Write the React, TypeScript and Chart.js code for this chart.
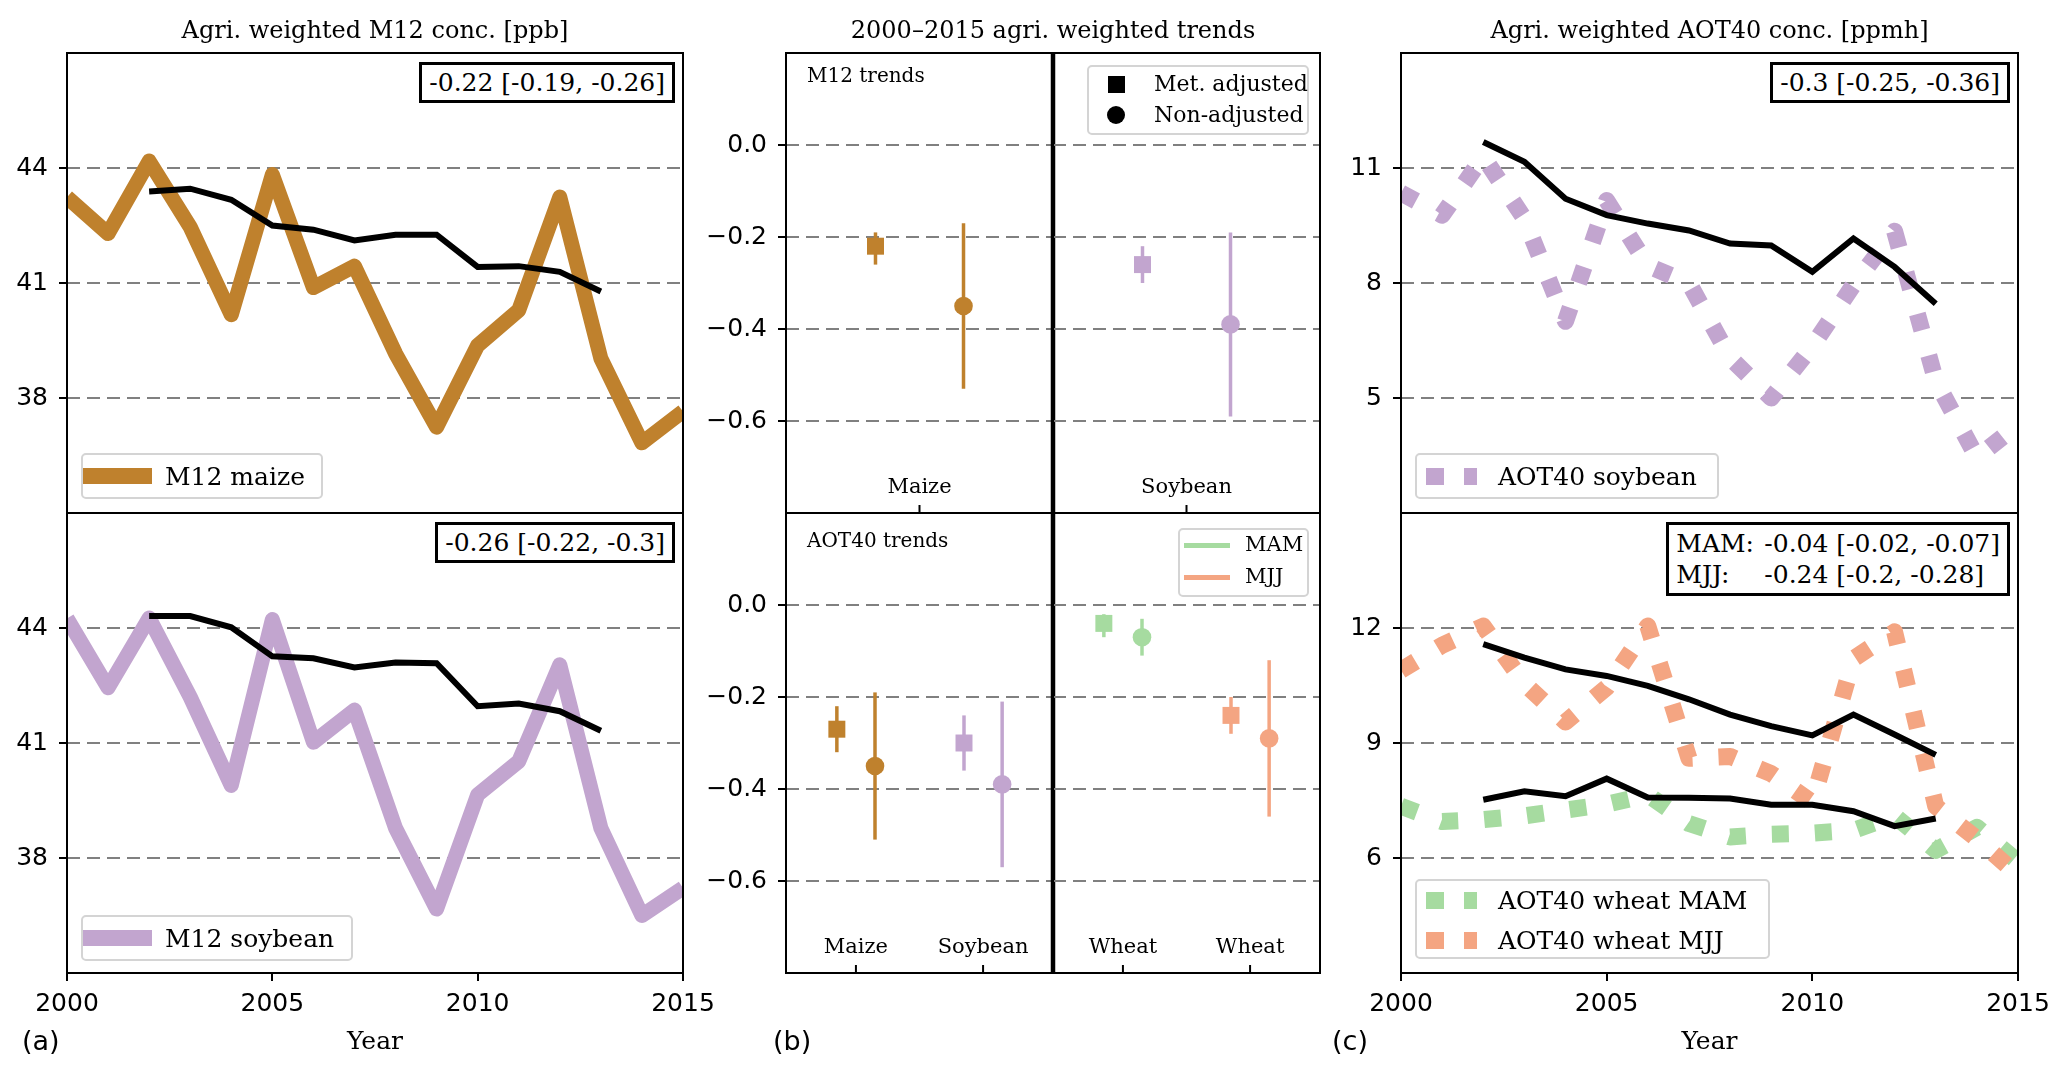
import React, { useEffect, useRef } from "react";
import { Chart, registerables } from "chart.js";

Chart.register(...registerables);

// ---------------- data ----------------
const years = [2000, 2001, 2002, 2003, 2004, 2005, 2006, 2007, 2008, 2009, 2010, 2011, 2012, 2013, 2014, 2015];

const maizeM12 = [43.24, 42.29, 44.18, 42.46, 40.17, 43.83, 40.88, 41.44, 39.16, 37.24, 39.37, 40.29, 43.24, 39.03, 36.83, 37.65];
const maizeM12Adj = [null, null, 43.39, 43.46, 43.17, 42.5, 42.39, 42.11, 42.26, 42.26, 41.42, 41.44, 41.29, 40.78, null, null];
const soyM12 = [44.25, 42.44, 44.26, 42.2, 39.89, 44.22, 41.02, 41.86, 38.78, 36.67, 39.65, 40.52, 43.04, 38.78, 36.5, 37.22];
const soyM12Adj = [null, null, 44.31, 44.31, 44.02, 43.26, 43.21, 42.97, 43.1, 43.08, 41.96, 42.03, 41.83, 41.32, null, null];

const soyAOT40 = [10.35, 9.77, 11.3, 9.68, 7.0, 10.15, 8.45, 8.0, 6.05, 5.0, 6.35, 7.95, 9.35, 5.45, 3.45, 4.3];
const soyAOT40Adj = [null, null, 11.68, 11.16, 10.2, 9.77, 9.55, 9.37, 9.03, 8.98, 8.29, 9.16, 8.42, 7.46, null, null];
const wheatMAM = [7.35, 6.95, 7.0, 7.1, 7.25, 7.4, 7.65, 6.9, 6.55, 6.62, 6.65, 6.72, 7.1, 6.2, 6.8, 5.9];
const wheatMAMAdj = [null, null, 7.52, 7.74, 7.61, 8.07, 7.58, 7.57, 7.55, 7.39, 7.39, 7.22, 6.83, 7.03, null, null];
const wheatMJJ = [10.9, 11.55, 12.05, 10.55, 9.55, 10.45, 12.05, 8.6, 8.65, 8.2, 7.45, 11.2, 11.9, 7.35, 6.5, 5.55];
const wheatMJJAdj = [null, null, 11.58, 11.23, 10.92, 10.75, 10.49, 10.14, 9.74, 9.44, 9.2, 9.74, 9.22, 8.69, null, null];

const m12Crops = ["Maize", "Soybean"];
const m12AdjMid = [-0.22, -0.26];
const m12AdjLo = [-0.26, -0.3];
const m12AdjHi = [-0.19, -0.22];
const m12RawMid = [-0.35, -0.39];
const m12RawLo = [-0.53, -0.59];
const m12RawHi = [-0.17, -0.19];

const aotCrops = ["Maize", "Soybean", "Wheat", "Wheat"];
const aotAdjMid = [-0.27, -0.3, -0.04, -0.24];
const aotAdjLo = [-0.32, -0.36, -0.07, -0.28];
const aotAdjHi = [-0.22, -0.24, -0.02, -0.2];
const aotRawMid = [-0.35, -0.39, -0.07, -0.29];
const aotRawLo = [-0.51, -0.57, -0.11, -0.46];
const aotRawHi = [-0.19, -0.21, -0.03, -0.12];

const yearTicks = [2000, 2005, 2010, 2015];
const m12Ticks = [38, 41, 44];
const aotSoyTicks = [5, 8, 11];
const aotWheatTicks = [6, 9, 12];
const trendTicks = [-0.6, -0.4, -0.2, 0.0];

// ---------------- style ----------------
const C_MAIZE = "#bf812d";
const C_SOY = "#c2a5cf";
const C_MAM = "#a6dba0";
const C_MJJ = "#f4a582";
const m12Colors = [C_MAIZE, C_SOY];
const aotColors = [C_MAIZE, C_SOY, C_MAM, C_MJJ];

const SERIF = "'DejaVu Serif', serif";
const SANS = "'DejaVu Sans', sans-serif";

const W = 2067;
const H = 1070;
const ML = 100, MR = 50, MT = 12, MB = 80;
const OFF = 0.15;

type Box = { l: number; t: number; r: number; b: number };

const B = {
  a1: { l: 67, t: 53, r: 683, b: 513 },
  a2: { l: 67, t: 513, r: 683, b: 973 },
  b1: { l: 786, t: 53, r: 1053, b: 513 },
  b2: { l: 1053, t: 53, r: 1320, b: 513 },
  b3: { l: 786, t: 513, r: 1053, b: 973 },
  b4: { l: 1053, t: 513, r: 1320, b: 973 },
  c1: { l: 1401, t: 53, r: 2018, b: 513 },
  c2: { l: 1401, t: 513, r: 2018, b: 973 },
};

const pts = (arr: (number | null)[]) =>
  years.map((x, i) => ({ x, y: arr[i] })).filter((p) => p.y !== null);

const thickLine = (arr: (number | null)[], color: string) => ({
  data: pts(arr), borderColor: color, backgroundColor: color, borderWidth: 15,
  pointRadius: 0, borderJoinStyle: "round", borderCapStyle: "butt", tension: 0, clip: 0, fill: false,
});
const dottedLine = (arr: (number | null)[], color: string) => ({
  data: pts(arr), borderColor: color, backgroundColor: color, borderWidth: 17, borderDash: [17, 26],
  pointRadius: 0, borderJoinStyle: "round", borderCapStyle: "butt", tension: 0, clip: 0, fill: false,
});
const blackLine = (arr: (number | null)[]) => ({
  data: pts(arr), borderColor: "#000", backgroundColor: "#000", borderWidth: 6,
  pointRadius: 0, borderJoinStyle: "miter", borderCapStyle: "butt", tension: 0, clip: 0, fill: false,
});
const marker = (x: number, y: number, color: string, style: string) => ({
  data: [{ x, y }], showLine: false, pointStyle: style, pointRadius: style === "rect" ? 12 : 9.3,
  pointBackgroundColor: color, pointBorderColor: color, pointBorderWidth: 0, borderColor: color, backgroundColor: color, clip: false,
});
const errBar = (x: number, lo: number, hi: number, color: string) => ({
  data: [{ x, y: lo }, { x, y: hi }], borderColor: color, backgroundColor: color, borderWidth: 3.5,
  pointRadius: 0, borderCapStyle: "butt", clip: false, fill: false,
});

// idx: which entries of the arrays go in this subplot; they sit at categories 0, 1, ...
const trendSets = (idx: number[], mid: number[], lo: number[], hi: number[], rmid: number[], rlo: number[], rhi: number[], colors: string[]) => {
  const mk: any[] = [];
  const eb: any[] = [];
  idx.forEach((k, c) => {
    mk.push(marker(c - OFF, mid[k], colors[k], "rect"));
    mk.push(marker(c + OFF, rmid[k], colors[k], "circle"));
    eb.push(errBar(c - OFF, lo[k], hi[k], colors[k]));
    eb.push(errBar(c + OFF, rlo[k], rhi[k], colors[k]));
  });
  return [...mk, ...eb];
};

type Spec = {
  id: string; box: Box;
  xMin: number; xMax: number; xTicks: number[]; xLabels: boolean; xTickMarks: boolean; xInside: boolean;
  xFmt: (v: number) => string;
  yMin: number; yMax: number; yTicks: number[]; yLabels: boolean; yFmt: (v: number) => string;
  datasets: any[]; thickRight?: boolean; innerTicks?: number[];
};

const yearFmt = (v: number) => String(v);
const intFmt = (v: number) => String(v);
const trendFmt = (v: number) => (Math.abs(v) < 1e-9 ? "0.0" : v.toFixed(1).replace("-", "\u2212"));

const specs: Spec[] = [
  {
    id: "a1", box: B.a1, xMin: 2000, xMax: 2015, xTicks: yearTicks, xLabels: false, xTickMarks: false, xInside: false, xFmt: yearFmt,
    yMin: 35, yMax: 47, yTicks: m12Ticks, yLabels: true, yFmt: intFmt,
    datasets: [blackLine(maizeM12Adj), thickLine(maizeM12, C_MAIZE)],
  },
  {
    id: "a2", box: B.a2, xMin: 2000, xMax: 2015, xTicks: yearTicks, xLabels: true, xTickMarks: true, xInside: false, xFmt: yearFmt,
    yMin: 35, yMax: 47, yTicks: m12Ticks, yLabels: true, yFmt: intFmt,
    datasets: [blackLine(soyM12Adj), thickLine(soyM12, C_SOY)],
  },
  {
    id: "b1", box: B.b1, xMin: -0.455, xMax: 0.455, xTicks: [0], xLabels: true, xTickMarks: false, xInside: true,
    xFmt: () => m12Crops[0],
    yMin: -0.8, yMax: 0.2, yTicks: trendTicks, yLabels: true, yFmt: trendFmt,
    datasets: trendSets([0], m12AdjMid, m12AdjLo, m12AdjHi, m12RawMid, m12RawLo, m12RawHi, m12Colors),
    thickRight: true, innerTicks: [0],
  },
  {
    id: "b2", box: B.b2, xMin: -0.455, xMax: 0.455, xTicks: [0], xLabels: true, xTickMarks: false, xInside: true,
    xFmt: () => m12Crops[1],
    yMin: -0.8, yMax: 0.2, yTicks: trendTicks, yLabels: false, yFmt: trendFmt,
    datasets: trendSets([1], m12AdjMid, m12AdjLo, m12AdjHi, m12RawMid, m12RawLo, m12RawHi, m12Colors),
    innerTicks: [0],
  },
  {
    id: "b3", box: B.b3, xMin: -0.55, xMax: 1.55, xTicks: [0, 1], xLabels: true, xTickMarks: false, xInside: true,
    xFmt: (v) => aotCrops[Math.round(v)],
    yMin: -0.8, yMax: 0.2, yTicks: trendTicks, yLabels: true, yFmt: trendFmt,
    datasets: trendSets([0, 1], aotAdjMid, aotAdjLo, aotAdjHi, aotRawMid, aotRawLo, aotRawHi, aotColors),
    thickRight: true, innerTicks: [0, 1],
  },
  {
    id: "b4", box: B.b4, xMin: -0.55, xMax: 1.55, xTicks: [0, 1], xLabels: true, xTickMarks: false, xInside: true,
    xFmt: (v) => aotCrops[2 + Math.round(v)],
    yMin: -0.8, yMax: 0.2, yTicks: trendTicks, yLabels: false, yFmt: trendFmt,
    datasets: trendSets([2, 3], aotAdjMid, aotAdjLo, aotAdjHi, aotRawMid, aotRawLo, aotRawHi, aotColors),
    innerTicks: [0, 1],
  },
  {
    id: "c1", box: B.c1, xMin: 2000, xMax: 2015, xTicks: yearTicks, xLabels: false, xTickMarks: false, xInside: false, xFmt: yearFmt,
    yMin: 2, yMax: 14, yTicks: aotSoyTicks, yLabels: true, yFmt: intFmt,
    datasets: [blackLine(soyAOT40Adj), dottedLine(soyAOT40, C_SOY)],
  },
  {
    id: "c2", box: B.c2, xMin: 2000, xMax: 2015, xTicks: yearTicks, xLabels: true, xTickMarks: true, xInside: false, xFmt: yearFmt,
    yMin: 3, yMax: 15, yTicks: aotWheatTicks, yLabels: true, yFmt: intFmt,
    datasets: [blackLine(wheatMAMAdj), blackLine(wheatMJJAdj), dottedLine(wheatMJJ, C_MJJ), dottedLine(wheatMAM, C_MAM)],
  },
];

const framePlugin = {
  id: "frame",
  afterDraw(chart: any, _args: any, opts: any) {
    const { ctx, chartArea } = chart;
    const { left, top, right, bottom } = chartArea;
    ctx.save();
    ctx.strokeStyle = "#000";
    ctx.lineWidth = 2;
    ctx.setLineDash([]);
    ctx.strokeRect(left, top, right - left, bottom - top);
    if (opts && opts.thickRight) {
      ctx.lineWidth = 4.5;
      ctx.beginPath();
      ctx.moveTo(right, top);
      ctx.lineTo(right, bottom);
      ctx.stroke();
    }
    if (opts && opts.innerTicks) {
      ctx.lineWidth = 2;
      opts.innerTicks.forEach((v: number) => {
        const px = chart.scales.x.getPixelForValue(v);
        ctx.beginPath();
        ctx.moveTo(px, bottom);
        ctx.lineTo(px, bottom - 8);
        ctx.stroke();
      });
    }
    ctx.restore();
  },
};

function Panel({ spec }: { spec: Spec }) {
  const ref = useRef<HTMLCanvasElement>(null);
  const { box } = spec;
  const cw = box.r - box.l + ML + MR;
  const ch = box.b - box.t + MT + MB;
  useEffect(() => {
    const chart = new Chart(ref.current as HTMLCanvasElement, {
      type: "line",
      data: { datasets: spec.datasets },
      options: {
        animation: false,
        responsive: false,
        maintainAspectRatio: false,
        events: [],
        layout: { padding: { left: 0, right: MR, top: MT, bottom: 0 } },
        plugins: {
          legend: { display: false },
          tooltip: { enabled: false },
          title: { display: false },
          frame: { thickRight: !!spec.thickRight, innerTicks: spec.innerTicks || null },
        } as any,
        scales: {
          x: {
            type: "linear",
            position: "bottom",
            min: spec.xMin,
            max: spec.xMax,
            afterBuildTicks: (s: any) => {
              s.ticks = spec.xTicks.map((v) => ({ value: v }));
            },
            afterFit: (s: any) => {
              s.height = MB;
              s.paddingLeft = 0; s.paddingRight = 0; s.paddingTop = 0; s.paddingBottom = 0;
            },
            grid: {
              display: spec.xTickMarks,
              drawOnChartArea: false,
              drawTicks: spec.xTickMarks,
              tickLength: 8,
              tickWidth: 2,
              tickColor: "#000",
              color: "#000",
              lineWidth: 2,
            },
            border: { display: false },
            ticks: {
              display: spec.xLabels,
              autoSkip: false,
              maxRotation: 0,
              minRotation: 0,
              mirror: spec.xInside,
              padding: spec.xInside ? 13 : 8,
              color: "#000",
              font: spec.xInside ? { family: SERIF, size: 21 } : { family: SANS, size: 25 },
              callback: (v: any) => spec.xFmt(Number(v)),
            },
          },
          y: {
            type: "linear",
            position: "left",
            min: spec.yMin,
            max: spec.yMax,
            afterBuildTicks: (s: any) => {
              s.ticks = spec.yTicks.map((v) => ({ value: v }));
            },
            afterFit: (s: any) => {
              s.width = ML;
              s.paddingLeft = 0; s.paddingRight = 0; s.paddingTop = 0; s.paddingBottom = 0;
            },
            grid: {
              display: true,
              drawOnChartArea: true,
              drawTicks: spec.yLabels,
              tickLength: 8,
              tickWidth: 2,
              tickColor: "#000",
              color: "#808080",
              lineWidth: 2,
            },
            border: { display: false, dash: [13, 7] },
            ticks: {
              display: spec.yLabels,
              autoSkip: false,
              padding: 11,
              color: "#000",
              font: { family: SANS, size: 25 },
              callback: (v: any) => spec.yFmt(Number(v)),
            },
          },
        },
      } as any,
      plugins: [framePlugin as any],
    });
    return () => chart.destroy();
  }, []);
  return (
    <canvas
      ref={ref}
      width={cw}
      height={ch}
      style={{ position: "absolute", left: box.l - ML, top: box.t - MT, width: cw, height: ch }}
    />
  );
}

// ---------------- text overlays ----------------
function Txt({ x, y, size, family, align = "left", children }: any) {
  const style: any = {
    position: "absolute",
    top: y - size * 0.846,
    fontSize: size,
    fontFamily: family,
    lineHeight: 1,
    whiteSpace: "pre",
    color: "#000",
  };
  if (align === "left") style.left = x;
  else if (align === "center") {
    style.left = x - 500;
    style.width = 1000;
    style.textAlign = "center";
  } else style.right = W - x;
  return <div style={style}>{children}</div>;
}

function LegendBox({ l, t, r, b }: any) {
  return (
    <div
      style={{
        position: "absolute",
        left: l,
        top: t,
        width: r - l,
        height: b - t,
        boxSizing: "border-box",
        border: "2px solid #d4d4d4",
        borderRadius: 5,
        background: "rgba(255,255,255,0.8)",
      }}
    />
  );
}

function Rect({ l, t, w, h, color, radius = 0 }: any) {
  return <div style={{ position: "absolute", left: l, top: t, width: w, height: h, background: color, borderRadius: radius }} />;
}

function AnnBox({ right, top, children, lineHeight = 29 }: any) {
  return (
    <div
      style={{
        position: "absolute",
        right: W - right,
        top,
        border: "3px solid #000",
        padding: "3px 7px",
        background: "#fff",
        fontFamily: SERIF,
        fontSize: 25,
        lineHeight: `${lineHeight}px`,
        whiteSpace: "pre",
        color: "#000",
      }}
    >
      {children}
    </div>
  );
}

function DotSample({ l, cy, color }: any) {
  return (
    <>
      <Rect l={l + 9} t={cy - 8.5} w={18} h={17} color={color} />
      <Rect l={l + 47} t={cy - 8.5} w={13} h={17} color={color} />
    </>
  );
}

export default function App() {
  return (
    <div style={{ position: "absolute", left: 0, top: 0, width: W, height: H, overflow: "hidden", background: "#fff" }}>
      {specs.map((s) => (
        <Panel key={s.id} spec={s} />
      ))}

      {/* titles */}
      <Txt x={375} y={38} size={24} family={SERIF} align="center">Agri. weighted M12 conc. [ppb]</Txt>
      <Txt x={1053} y={38} size={24} family={SERIF} align="center">2000–2015 agri. weighted trends</Txt>
      <Txt x={1709.5} y={38} size={24} family={SERIF} align="center">Agri. weighted AOT40 conc. [ppmh]</Txt>

      {/* axis labels */}
      <Txt x={375} y={1049} size={25} family={SERIF} align="center">Year</Txt>
      <Txt x={1709.5} y={1049} size={25} family={SERIF} align="center">Year</Txt>
      <Txt x={22} y={1050} size={27} family={SANS}>(a)</Txt>
      <Txt x={773} y={1050} size={27} family={SANS}>(b)</Txt>
      <Txt x={1332} y={1050} size={27} family={SANS}>(c)</Txt>

      {/* annotation boxes */}
      <AnnBox right={675} top={62}>-0.22 [-0.19, -0.26]</AnnBox>
      <AnnBox right={675} top={522}>-0.26 [-0.22, -0.3]</AnnBox>
      <AnnBox right={2010} top={62}>-0.3 [-0.25, -0.36]</AnnBox>
      <AnnBox right={2010} top={522} lineHeight={31}>
        <span style={{ display: "inline-block", width: 88 }}>MAM:</span>-0.04 [-0.02, -0.07]{"\n"}
        <span style={{ display: "inline-block", width: 88 }}>MJJ:</span>-0.24 [-0.2, -0.28]
      </AnnBox>

      {/* middle subplot labels */}
      <Txt x={807} y={82} size={20} family={SERIF}>M12 trends</Txt>
      <Txt x={807} y={547} size={20} family={SERIF}>AOT40 trends</Txt>

      {/* legend: M12 maize */}
      <LegendBox l={81} t={453} r={323} b={499} />
      <Rect l={83} t={468} w={69} h={16} color={C_MAIZE} />
      <Txt x={165} y={485} size={25} family={SERIF}>M12 maize</Txt>

      {/* legend: M12 soybean */}
      <LegendBox l={81} t={915} r={353} b={961} />
      <Rect l={83} t={930} w={69} h={16} color={C_SOY} />
      <Txt x={165} y={947} size={25} family={SERIF}>M12 soybean</Txt>

      {/* legend: AOT40 soybean */}
      <LegendBox l={1415} t={453} r={1719} b={499} />
      <DotSample l={1417} cy={476} color={C_SOY} />
      <Txt x={1498} y={485} size={25} family={SERIF}>AOT40 soybean</Txt>

      {/* legend: wheat */}
      <LegendBox l={1415} t={879} r={1770} b={959} />
      <DotSample l={1417} cy={900} color={C_MAM} />
      <Txt x={1498} y={909} size={25} family={SERIF}>AOT40 wheat MAM</Txt>
      <DotSample l={1417} cy={940} color={C_MJJ} />
      <Txt x={1498} y={949} size={25} family={SERIF}>AOT40 wheat MJJ</Txt>

      {/* legend: marker types */}
      <LegendBox l={1087} t={65} r={1309} b={135} />
      <Rect l={1108} t={76} w={17} h={17} color="#000" />
      <Rect l={1107} t={106} w={18} h={18} color="#000" radius={9} />
      <Txt x={1154} y={92} size={22} family={SERIF}>Met. adjusted</Txt>
      <Txt x={1154} y={123} size={22} family={SERIF}>Non-adjusted</Txt>

      {/* legend: seasons */}
      <LegendBox l={1178} t={528} r={1309} b={597} />
      <Rect l={1184} t={542.5} w={46} h={5} color={C_MAM} />
      <Rect l={1184} t={574.5} w={46} h={5} color={C_MJJ} />
      <Txt x={1245} y={552} size={21} family={SERIF}>MAM</Txt>
      <Txt x={1245} y={584} size={21} family={SERIF}>MJJ</Txt>
    </div>
  );
}
